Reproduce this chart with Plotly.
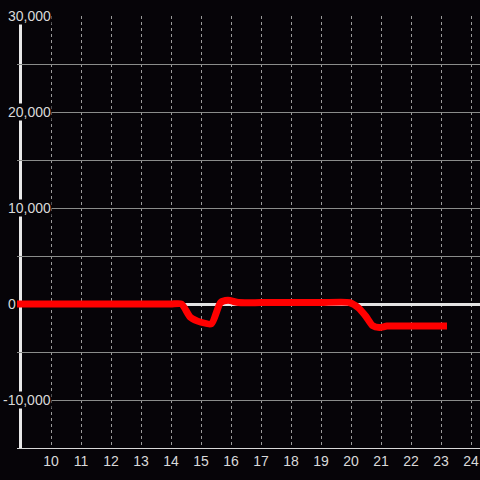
import plotly.graph_objects as go

# ---- data ----
hours = [8.8, 10, 11, 12, 13, 14, 14.35, 14.65, 15.0, 15.35, 15.65, 15.9, 16.25, 17, 18, 19, 19.95, 20.25, 20.5, 20.72, 20.95, 21.2, 22, 23.2]
values = [0, 0, 0, 0, 0, 0, 0, -1400, -1900, -2050, 150, 380, 150, 150, 150, 150, 150, -400, -1300, -2250, -2450, -2300, -2300, -2300]
x_ticks = list(range(10, 25))
y_label_values = [30000, 20000, 10000, 0, -10000]

BG = "#060408"
PLOT_LEFT = 17
PLOT_W = 480 - PLOT_LEFT

fig = go.Figure()
fig.add_trace(go.Scatter(
    x=hours, y=values, mode="lines",
    line=dict(color="#ff0000", width=7, shape="spline", smoothing=0.6),
    hoverinfo="skip", showlegend=False,
))

fig.update_layout(
    width=480, height=480, autosize=False,
    margin=dict(l=PLOT_LEFT, r=0, t=16, b=32, pad=0),
    paper_bgcolor=BG, plot_bgcolor=BG,
    showlegend=False,
    xaxis=dict(
        range=[10 - (51 - PLOT_LEFT) / 30, 10 + (480 - 51) / 30],
        tickvals=x_ticks, ticktext=[str(v) for v in x_ticks],
        showgrid=True, gridcolor="#9a9a9a", gridwidth=1, griddash="dot",
        showline=True, linecolor="#d8d8d8", linewidth=1,
        zeroline=False,
        ticks="", tickfont=dict(family="Liberation Sans, Arial", size=14, color="#d9d9d9"),
    ),
    yaxis=dict(
        range=[-15000, 30000], dtick=5000, tick0=0,
        showgrid=True, gridcolor="#8a8c8a", gridwidth=1,
        zeroline=True, zerolinecolor="#e4e4e4", zerolinewidth=3,
        showline=False, showticklabels=False, ticks="",
    ),
)

# y axis line (below the trace)
fig.add_shape(type="line", xref="paper", yref="paper",
              x0=(20.5 - PLOT_LEFT) / PLOT_W, x1=(20.5 - PLOT_LEFT) / PLOT_W, y0=0, y1=1,
              line=dict(color="#e8e8e8", width=3), layer="below")

# y tick labels with background boxes
for v in y_label_values:
    px = 7 if v >= 0 else 2
    fig.add_annotation(
        xref="paper", yref="y", x=(px - PLOT_LEFT) / PLOT_W, y=v,
        xanchor="left", yanchor="middle", showarrow=False,
        text=f"{v:,}", bgcolor=BG, borderpad=0,
        font=dict(family="Liberation Sans, Arial", size=14, color="#d9d9d9"),
    )

fig.write_html(
    "out.html",
    config={"displayModeBar": False},
    post_script="document.body.style.margin='0';document.body.style.background='" + BG + "';",
)
